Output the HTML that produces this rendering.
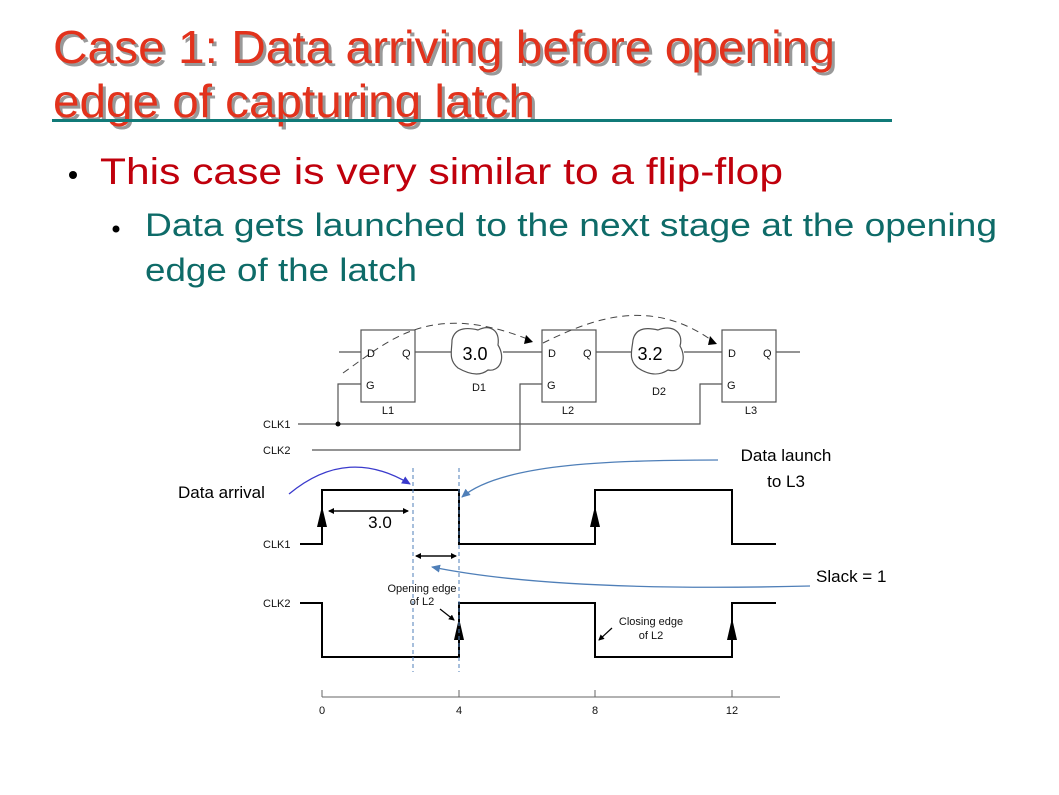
<!DOCTYPE html>
<html><head><meta charset="utf-8"><style>
html,body{margin:0;padding:0;background:#fff;}
svg{display:block;}
</style></head><body>
<svg width="1059" height="795" viewBox="0 0 1059 795" xmlns="http://www.w3.org/2000/svg" font-family="Liberation Sans, Arial, sans-serif">
<defs>
<marker id="abs" markerWidth="6" markerHeight="6" refX="5" refY="3" orient="auto" markerUnits="userSpaceOnUse"><path d="M0,0 L6,3 L0,6 z" fill="#000"/></marker>
<marker id="ap" markerWidth="9" markerHeight="8" refX="8" refY="4" orient="auto" markerUnits="userSpaceOnUse"><path d="M0,0 L9,4 L0,8 z" fill="#3a3acc"/></marker>
<marker id="abl" markerWidth="9" markerHeight="8" refX="8" refY="4" orient="auto" markerUnits="userSpaceOnUse"><path d="M0,0 L9,4 L0,8 z" fill="#4f7fb8"/></marker>
</defs>
<!-- Title -->
<g font-size="46">
<text x="56" y="66" fill="#999" textLength="782" lengthAdjust="spacingAndGlyphs">Case 1: Data arriving before opening</text>
<text x="56" y="120" fill="#999" textLength="482" lengthAdjust="spacingAndGlyphs">edge of capturing latch</text>
<text x="53" y="63" fill="#e2321c" textLength="782" lengthAdjust="spacingAndGlyphs">Case 1: Data arriving before opening</text>
<text x="53" y="117" fill="#e2321c" textLength="482" lengthAdjust="spacingAndGlyphs">edge of capturing latch</text>
</g>
<rect x="52" y="119" width="840" height="3" fill="#107a78"/>
<!-- bullets -->
<circle cx="73" cy="175" r="4" fill="#000"/>
<text x="100" y="184" font-size="37" fill="#c0000c" textLength="683" lengthAdjust="spacingAndGlyphs">This case is very similar to a flip-flop</text>
<circle cx="116" cy="229" r="3.5" fill="#000"/>
<text x="145" y="236" font-size="32" fill="#0e6b68" textLength="852" lengthAdjust="spacingAndGlyphs">Data gets launched to the next stage at the opening</text>
<text x="145" y="281" font-size="32" fill="#0e6b68" textLength="272" lengthAdjust="spacingAndGlyphs">edge of the latch</text>

<!-- circuit -->
<g stroke="#555" stroke-width="1.2" fill="none">
<rect x="361" y="330" width="54" height="72" fill="#fff"/>
<rect x="542" y="330" width="54" height="72" fill="#fff"/>
<rect x="722" y="330" width="54" height="72" fill="#fff"/>
<path d="M339 352H361 M415 352H452 M503 352H542 M596 352H632 M684 352H722 M776 352H800"/>
<path d="M361 384H338V424 M298 424H700V384H722 M312 450H520V384H542"/>
<path d="M452 340 C455 326,470 328,478 330 C490 324,500 330,498 345 C506 358,500 372,488 370 C478 378,465 372,458 368 C448 360,452 350,452 340z" fill="#fff"/>
<path d="M633 340 C636 326,650 328,658 330 C672 324,684 332,680 346 C688 360,680 374,668 370 C656 378,644 372,638 368 C628 360,632 350,633 340z" fill="#fff"/>
</g>
<circle cx="338" cy="424" r="2.5" fill="#000"/>
<g stroke="#444" stroke-width="1" fill="none" stroke-dasharray="7,5">
<path d="M343 373 C390 340,430 300,530 340"/>
<path d="M543 343 C590 320,650 295,714 342"/>
</g>
<path d="M526 335 L533 342 L524 344z" fill="#000"/>
<path d="M710 336 L717 344 L708 345z" fill="#000"/>
<g font-size="11" fill="#111">
<text x="367" y="357">D</text><text x="402" y="357">Q</text><text x="366" y="389">G</text>
<text x="548" y="357">D</text><text x="583" y="357">Q</text><text x="547" y="389">G</text>
<text x="728" y="357">D</text><text x="763" y="357">Q</text><text x="727" y="389">G</text>
<text x="388" y="414" text-anchor="middle">L1</text>
<text x="568" y="414" text-anchor="middle">L2</text>
<text x="751" y="414" text-anchor="middle">L3</text>
<text x="479" y="391" text-anchor="middle">D1</text>
<text x="659" y="395" text-anchor="middle">D2</text>
<text x="263" y="428">CLK1</text>
<text x="263" y="454">CLK2</text>
<text x="263" y="548">CLK1</text>
<text x="263" y="607">CLK2</text>
</g>
<text x="475" y="360" font-size="18" text-anchor="middle">3.0</text>
<text x="650" y="360" font-size="18" text-anchor="middle">3.2</text>

<!-- timing -->
<g stroke="#000" stroke-width="2" fill="none">
<path d="M300 544H322V490H459V544H595V490H732V544H776"/>
<path d="M300 603H322V657H459V603H595V657H732V603H776"/>
</g>
<g fill="#000">
<path d="M322 506L317 527H327z"/><path d="M595 506L590 527H600z"/>
<path d="M459 618L454 640H464z"/><path d="M732 618L727 640H737z"/>
</g>
<g stroke="#4f7fb8" stroke-width="1" stroke-dasharray="4,3">
<path d="M413 468V672 M459 468V672"/>
</g>
<g stroke="#000" stroke-width="1.2">
<path d="M329 511H408" marker-end="url(#abs)"/><path d="M408 511H329" marker-end="url(#abs)"/>
<path d="M416 556H456" marker-end="url(#abs)"/><path d="M456 556H416" marker-end="url(#abs)"/>
<path d="M440 609L454 620" marker-end="url(#abs)"/>
<path d="M612 628L599 640" marker-end="url(#abs)"/>
</g>
<text x="380" y="528" font-size="17" text-anchor="middle">3.0</text>
<g font-size="11" fill="#111" text-anchor="middle">
<text x="422" y="592">Opening edge</text><text x="422" y="605">of L2</text>
<text x="651" y="625">Closing edge</text><text x="651" y="639">of L2</text>
<text x="322" y="714">0</text><text x="459" y="714">4</text><text x="595" y="714">8</text><text x="732" y="714">12</text>
</g>
<g stroke="#666" stroke-width="1" fill="none">
<path d="M322 697H780 M322 690V697 M459 690V697 M595 690V697 M732 690V697"/>
</g>
<!-- annotations -->
<text x="178" y="498" font-size="17">Data arrival</text>
<path d="M289 494 C330 460,370 460,410 484" stroke="#3a3acc" stroke-width="1.3" fill="none" marker-end="url(#ap)"/>
<text x="786" y="461" font-size="17" text-anchor="middle">Data launch</text>
<text x="786" y="487" font-size="17" text-anchor="middle">to L3</text>
<path d="M718 460 C600 460,500 465,462 497" stroke="#4f7fb8" stroke-width="1.3" fill="none" marker-end="url(#abl)"/>
<text x="816" y="582" font-size="17">Slack = 1</text>
<path d="M810 586 C650 590,520 585,432 567" stroke="#4f7fb8" stroke-width="1.3" fill="none" marker-end="url(#abl)"/>
</svg>
</body></html>
